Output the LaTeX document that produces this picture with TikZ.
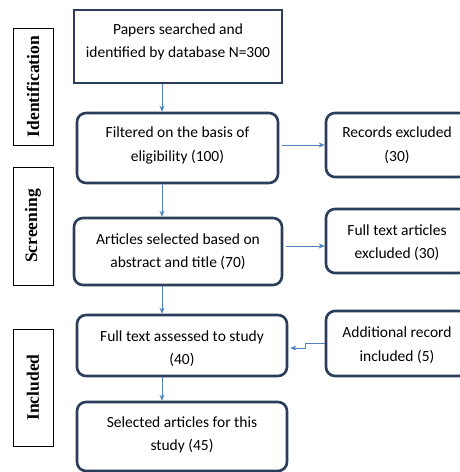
\documentclass[tikz,border=0pt]{standalone}
\usepackage{fontspec}
\setmainfont{Carlito}
\newfontfamily\sidefont{Liberation Serif}
\usetikzlibrary{arrows.meta}
\definecolor{boxline}{HTML}{2B3D58}
\definecolor{arrowblue}{HTML}{4F81BD}
\tikzset{
  mainbox/.style={draw=boxline, line width=2.6pt, rounded corners=9pt, inner sep=0pt},
  squarebox/.style={mainbox, rounded corners=0pt},
  txt/.style={align=center, inner sep=0pt, font=\fontsize{15.5}{23.5}\selectfont, text=black},
  sidebox/.style={draw=black, line width=0.9pt, inner sep=0pt,
    font=\sidefont\bfseries\fontsize{17.5}{20}\selectfont, rotate=90},
  arr/.style={draw=arrowblue, line width=1pt, -{Stealth[length=6pt,width=5pt]}}
}
\begin{document}
\begin{tikzpicture}[x=1pt,y=-1pt]
\useasboundingbox (0,0) rectangle (460,472);
\clip (0,0) rectangle (460,472);
% side labels
\node[sidebox, minimum height=40pt, minimum width=117pt] (sid) at (33,86.5) {Identification};
\node[sidebox, minimum height=40pt, minimum width=118pt] (ssc) at (33,226) {Screening};
\node[sidebox, minimum height=40pt, minimum width=117pt] (sin) at (33,387.5) {Included};
% main column
\node[squarebox, minimum width=208pt, minimum height=73pt,
  label={[txt, yshift=4.5pt]center:{Papers searched and\\identified by database N=300}}] (b1) at (178,46.5) {};
\node[mainbox, minimum width=201pt, minimum height=70pt,
  label={[txt, yshift=2.5pt]center:{Filtered on the basis of\\eligibility (100)}}] (b2) at (177.5,148) {};
\node[mainbox, minimum width=208pt, minimum height=67pt,
  label={[txt]center:{Articles selected based on\\abstract and title (70)}}] (b3) at (178,251.5) {};
\node[mainbox, minimum width=210pt, minimum height=61pt,
  label={[txt, yshift=-3pt]center:{Full text assessed to study\\(40)}}] (b4) at (182,345.5) {};
\node[mainbox, minimum width=210pt, minimum height=69pt,
  label={[txt, yshift=1.5pt]center:{Selected articles for this\\study (45)}}] (b5) at (182,436.5) {};
% right column
\node[mainbox, minimum width=142pt, minimum height=64pt,
  label={[txt]center:{Records excluded\\(30)}}] (r1) at (397,145) {};
\node[mainbox, minimum width=142pt, minimum height=64pt,
  label={[txt, yshift=-1.5pt]center:{Full text articles\\excluded (30)}}] (r2) at (397,241) {};
\node[mainbox, minimum width=142pt, minimum height=65pt,
  label={[txt, yshift=-1.5pt]center:{Additional record\\included (5)}}] (r3) at (397,343.5) {};
% arrows
\coordinate (ax) at (162,0);
\draw[arr] (b1.south -| ax) -- (b2.north -| ax);
\draw[arr] (b2.south -| ax) -- (b3.north -| ax);
\draw[arr] (b3.south -| ax) -- (b4.north -| ax);
\draw[arr] (b4.south -| ax) -- (b5.north -| ax);
\draw[arr] ([xshift=3pt]b2.east |- r1.west) -- (r1.west);
\coordinate (c3) at ([xshift=3pt,yshift=5.5pt]b3.east);
\draw[arr] (c3) -- (c3 -| r2.west);
\draw[arr] (r3.west) -- ++(-19,0) |- ([xshift=2pt,yshift=-2.5pt]b4.east);
\end{tikzpicture}
\end{document}
